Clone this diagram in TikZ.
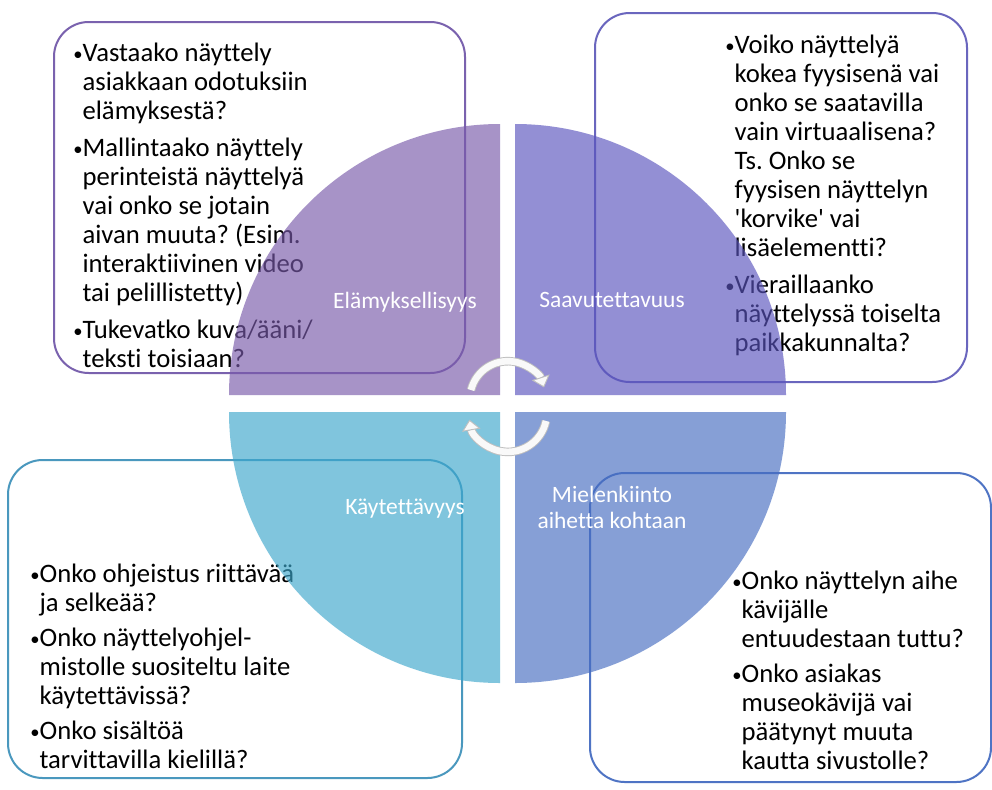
\documentclass[tikz,border=0pt]{standalone}
\usepackage{fontspec}
\setmainfont{Carlito}[Ligatures={TeXOff,CommonOff}]
\usetikzlibrary{arrows.meta}
\definecolor{tlquad}{HTML}{795AAA}
\definecolor{trquad}{HTML}{5A54BD}
\definecolor{blquad}{HTML}{3CA7CC}
\definecolor{brquad}{HTML}{466DC1}
\definecolor{tlline}{HTML}{7A62AE}
\definecolor{trline}{HTML}{6A66BE}
\definecolor{blline}{HTML}{4A98BE}
\definecolor{brline}{HTML}{4F74C4}
\newcommand{\qbul}{\makebox[7pt][l]{\raisebox{1.2pt}{\fontsize{14}{14}\selectfont\textbullet}}}
\newcommand{\qind}{\hspace*{7pt}}
\begin{document}
\begin{tikzpicture}[x=0.75pt,y=-0.75pt,
  qbox/.style={line width=1.5pt,rounded corners=26pt,fill=white},
  quad/.style={fill opacity=0.65,draw=none},
  qtext/.style={align=left,inner sep=0pt,anchor=north west,font=\fontsize{20}{21.75}\selectfont\frenchspacing},
  qlabel/.style={text=white,inner sep=0pt,font=\fontsize{17.6}{19.5}\selectfont},
  cyc/.style={draw=gray!50,double=gray!5,double distance=5pt,line width=0.7pt,-{Triangle[length=8pt,width=14pt,fill=gray!5]}}]
\fill[white] (0,0) rectangle (992,789);
\useasboundingbox (0,0) rectangle (992,789);
% text boxes
\draw[qbox,draw=tlline] (54,22) rectangle (465,373);
\draw[qbox,draw=trline] (595,13) rectangle (967,382);
\draw[qbox,draw=blline] (8,460) rectangle (462,778);
\draw[qbox,draw=brline] (590,473) rectangle (991,782);
\node[qtext] (tltext) at (73,43) {\qbul Vastaako näyttely\\\qind asiakkaan odotuksiin\\\qind elämyksestä?\\[6pt]\qbul Mallintaako näyttely\\\qind perinteistä näyttelyä\\\qind vai onko se jotain\\\qind aivan muuta? (Esim.\\\qind interaktiivinen video\\\qind tai pelillistetty)\\[6pt]\qbul Tukevatko kuva/ääni/\\\qind teksti toisiaan?};
\node[qtext] (trtext) at (725,35) {\qbul Voiko näyttelyä\\\qind kokea fyysisenä vai\\\qind onko se saatavilla\\\qind vain virtuaalisena?\\\qind Ts. Onko se\\\qind fyysisen näyttelyn\\\qind 'korvike' vai\\\qind lisäelementti?\\[6pt]\qbul Vieraillaanko\\\qind näyttelyssä toiselta\\\qind paikkakunnalta?};
\node[qtext] (bltext) at (30,564) {\qbul Onko ohjeistus riittävää\\\qind ja selkeää?\\[4.5pt]\qbul Onko näyttelyohjel-\\\qind mistolle suositeltu laite\\\qind käytettävissä?\\[4.5pt]\qbul Onko sisältöä\\\qind tarvittavilla kielillä?};
\node[qtext] (brtext) at (732,571) {\qbul Onko näyttelyn aihe\\\qind kävijälle\\\qind entuudestaan tuttu?\\[4.5pt]\qbul Onko asiakas\\\qind museokävijä vai\\\qind päätynyt muuta\\\qind kautta sivustolle?};
% quadrants
\fill[quad,tlquad] (500,395) -- (229,395) arc[start angle=180,end angle=270,radius=271] -- cycle;
\fill[quad,trquad] (515,395) -- (515,124) arc[start angle=270,end angle=360,radius=271] -- cycle;
\fill[quad,blquad] (500,412) -- (229,412) arc[start angle=180,end angle=90,radius=271] -- cycle;
\fill[quad,brquad] (515,412) -- (786,412) arc[start angle=0,end angle=90,radius=271] -- cycle;
\node[qlabel,anchor=base] (tllabel) at (405,308) {Elämyksellisyys};
\node[qlabel,anchor=base] (trlabel) at (612,307) {Saavutettavuus};
\node[qlabel,anchor=base] (bllabel) at (405,514) {Käytettävyys};
\node[qlabel,anchor=north,align=center] (brlabel) at (612,486) {Mielenkiinto\\aihetta kohtaan};
% cycle arrows
\coordinate (cyctop) at (471,390);
\coordinate (cycbot) at (546,421);
\draw[cyc] (cyctop) arc[start angle=194,end angle=342,radius=38];
\draw[cyc] (cycbot) arc[start angle=12,end angle=170,radius=39];
\end{tikzpicture}
\end{document}
